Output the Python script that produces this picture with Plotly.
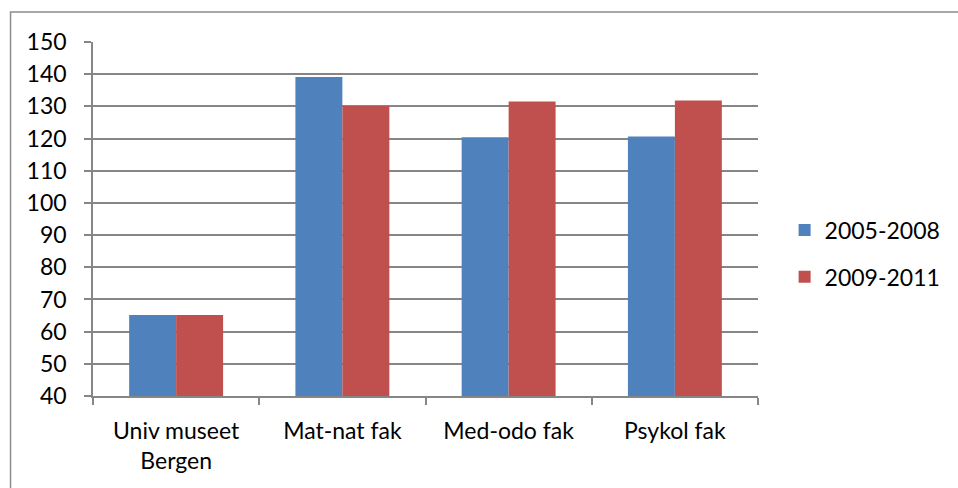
import plotly.graph_objects as go

# Data
categories = ["Univ museet<br>Bergen", "Mat-nat fak", "Med-odo fak", "Psykol fak"]
series_names = ["2005-2008", "2009-2011"]
values_2005_2008 = [65.2, 139.1, 120.4, 120.6]
values_2009_2011 = [65.2, 130.1, 131.5, 131.8]
y_ticks = list(range(40, 151, 10))

COLORS = {
    "blue": "#4F81BD",
    "red": "#C0504D",
    "grid": "#868686",
}

FONT = "Lato, 'Open Sans', sans-serif"

fig = go.Figure()
for name, vals, col, grp in [
    (series_names[0], values_2005_2008, COLORS["blue"], "a"),
    (series_names[1], values_2009_2011, COLORS["red"], "b"),
]:
    fig.add_trace(go.Bar(
        x=categories, y=vals, name=name, legendgroup=grp,
        marker=dict(color=col, line=dict(width=0)),
    ))

# outer chart border (only top/left fall inside the picture)
fig.add_shape(
    type="rect", xref="paper", yref="paper",
    x0=-0.124, x1=3, y0=-1, y1=1.085,
    line=dict(color="#8C8C8C", width=1.5), layer="below",
)

fig.update_layout(
    width=958, height=488,
    plot_bgcolor="white", paper_bgcolor="white",
    margin=dict(l=93, r=195, t=42, b=92),
    font=dict(family=FONT, size=23, color="#000000"),
    barmode="group", bargap=0.435, bargroupgap=0,
    showlegend=True,
    legend=dict(
        x=1.04, y=0.4025, xanchor="left", yanchor="middle",
        font=dict(size=23), tracegroupgap=14,
        itemwidth=30, bgcolor="rgba(0,0,0,0)",
    ),
    xaxis=dict(
        showline=True, linecolor=COLORS["grid"], linewidth=1.5,
        ticks="outside", tickson="boundaries", ticklen=7,
        tickcolor=COLORS["grid"], tickwidth=1.5,
        showgrid=False, tickfont=dict(size=23), ticklabelstandoff=14,
    ),
    yaxis=dict(
        range=[40, 150], tickvals=y_ticks,
        showline=True, linecolor=COLORS["grid"], linewidth=1.5,
        ticks="outside", ticklen=7, tickcolor=COLORS["grid"], tickwidth=1.5,
        showgrid=True, gridcolor=COLORS["grid"], gridwidth=1.5,
        zeroline=False, tickfont=dict(size=23), ticklabelstandoff=13,
    ),
)

fig.write_html("out.html", config={"displayModeBar": False})

# drop the default page margin so the chart sits at the window's corner
with open("out.html", encoding="utf-8") as f:
    html = f.read()
html = html.replace("<body>", '<body style="margin:0;overflow:hidden">', 1)
with open("out.html", "w", encoding="utf-8") as f:
    f.write(html)
